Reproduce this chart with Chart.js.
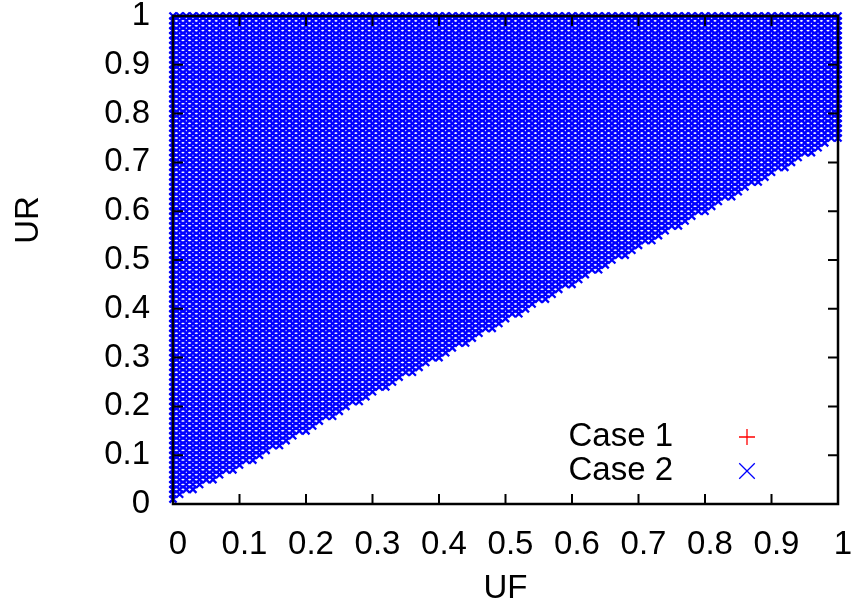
<!DOCTYPE html>
<html>
<head>
<meta charset="utf-8">
<script src="https://cdn.jsdelivr.net/npm/chart.js@4.4.1/dist/chart.umd.min.js"></script>
<style>
  html, body { margin: 0; padding: 0; background: #fff; }
  #wrap { width: 853px; height: 613px; }
</style>
</head>
<body>
<div id="wrap"><canvas id="grafico" width="853" height="613"></canvas></div>
<script>
// eixos
const ufTicks = [0, 0.1, 0.2, 0.3, 0.4, 0.5, 0.6, 0.7, 0.8, 0.9, 1];
const urTicks = [0, 0.1, 0.2, 0.3, 0.4, 0.5, 0.6, 0.7, 0.8, 0.9, 1];

// grade de amostragem (passo 0.01 em UF e UR)
const gridStep = 0.01;
const gridMax = 1;

const boundaryUF = [0, 0.1, 0.2, 0.3, 0.4, 0.5, 0.6, 0.7, 0.8, 0.9, 1];
const boundaryUR = [0.01, 0.075, 0.15, 0.225, 0.3, 0.375, 0.45, 0.525, 0.6, 0.675, 0.75];

// Case 1 nao aparece na figura (coberto / vazio)
const case1 = [];

function limiteUR(uf) {
  for (let i = 0; i < boundaryUF.length - 1; i++) {
    if (uf <= boundaryUF[i + 1] + 1e-9) {
      const t = (uf - boundaryUF[i]) / (boundaryUF[i + 1] - boundaryUF[i]);
      return boundaryUR[i] + t * (boundaryUR[i + 1] - boundaryUR[i]);
    }
  }
  return boundaryUR[boundaryUR.length - 1];
}

const case2 = [];
const n = Math.round(gridMax / gridStep);
for (let i = 0; i <= n; i++) {
  const uf = i / n;
  const min = limiteUR(uf);
  for (let j = 0; j <= n; j++) {
    const ur = j / n;
    if (ur >= min - 1e-9) case2.push({ x: uf, y: ur });
  }
}

const fonte = "'Liberation Sans', Arial, sans-serif";
const tamFonte = 33;

const molduraPlugin = {
  id: 'moldura',
  afterDatasetsDraw(chart) {
    const { ctx, chartArea: a, scales } = chart;
    ctx.save();
    ctx.strokeStyle = '#000';
    ctx.lineWidth = 2.5;
    ctx.strokeRect(a.left, a.top, a.right - a.left, a.bottom - a.top);
    const tl = 10;
    ctx.lineWidth = 2;
    ctx.beginPath();
    ufTicks.forEach(v => {
      const x = scales.x.getPixelForValue(v);
      ctx.moveTo(x, a.bottom); ctx.lineTo(x, a.bottom - tl);
      ctx.moveTo(x, a.top); ctx.lineTo(x, a.top + tl);
    });
    urTicks.forEach(v => {
      const y = scales.y.getPixelForValue(v);
      ctx.moveTo(a.left, y); ctx.lineTo(a.left + tl, y);
      ctx.moveTo(a.right, y); ctx.lineTo(a.right - tl, y);
    });
    ctx.stroke();

    // titulos dos eixos
    ctx.fillStyle = '#000';
    ctx.font = tamFonte + 'px ' + fonte;
    ctx.textAlign = 'center';
    ctx.textBaseline = 'middle';
    ctx.fillText('UF', (a.left + a.right) / 2, 589);
    ctx.save();
    ctx.translate(29, 220);
    ctx.rotate(-Math.PI / 2);
    ctx.fillText('UR', 0, 0);
    ctx.restore();

    // legenda
    const linhas = [437, 471];
    chart.data.datasets.forEach((ds, i) => {
      const y = linhas[i];
      ctx.textAlign = 'right';
      ctx.fillStyle = '#000';
      ctx.fillText(ds.label, 673, y);
      ctx.strokeStyle = ds.borderColor;
      ctx.lineWidth = 1.3;
      Chart.helpers.drawPoint(ctx, { pointStyle: ds.pointStyle, radius: ds.legendRadius, borderWidth: 1.3, rotation: 0 }, 747, y);
    });
    ctx.restore();
  }
};

const ctx = document.getElementById('grafico').getContext('2d');
const chart = new Chart(ctx, {
  type: 'scatter',
  data: {
    datasets: [
      {
        label: 'Case 1',
        data: case1,
        pointStyle: 'cross',
        borderColor: '#ff0000',
        backgroundColor: '#ff0000',
        pointRadius: 4,
        borderWidth: 1,
        legendRadius: 8,
        clip: false
      },
      {
        label: 'Case 2',
        data: case2,
        pointStyle: 'crossRot',
        borderColor: '#0000ff',
        backgroundColor: '#0000ff',
        pointRadius: 5,
        borderWidth: 2.3,
        legendRadius: 11,
        clip: false
      }
    ]
  },
  options: {
    responsive: false,
    animation: false,
    events: [],
    layout: { padding: { top: 16, right: 15, left: 0, bottom: 0 } },
    scales: {
      x: {
        type: 'linear',
        min: 0,
        max: 1,
        afterBuildTicks: s => { s.ticks = ufTicks.map(v => ({ value: v })); },
        afterFit: s => { s.height = 109; s.paddingLeft = 0; s.paddingRight = 0; },
        grid: { display: false, drawTicks: false },
        border: { display: false },
        ticks: {
          color: '#000',
          font: { family: fonte, size: tamFonte },
          padding: 21,
          labelOffset: 5,
          maxRotation: 0,
          autoSkip: false,
          callback: v => String(v)
        }
      },
      y: {
        type: 'linear',
        min: 0,
        max: 1,
        afterBuildTicks: s => { s.ticks = urTicks.map(v => ({ value: v })); },
        afterFit: s => { s.width = 173; s.paddingTop = 0; s.paddingBottom = 0; },
        grid: { display: false, drawTicks: false },
        border: { display: false },
        ticks: {
          color: '#000',
          font: { family: fonte, size: tamFonte },
          padding: 23,
          autoSkip: false,
          callback: v => String(v)
        }
      }
    },
    plugins: {
      legend: { display: false },
      tooltip: { enabled: false }
    }
  },
  plugins: [molduraPlugin]
});
</script>
</body>
</html>
